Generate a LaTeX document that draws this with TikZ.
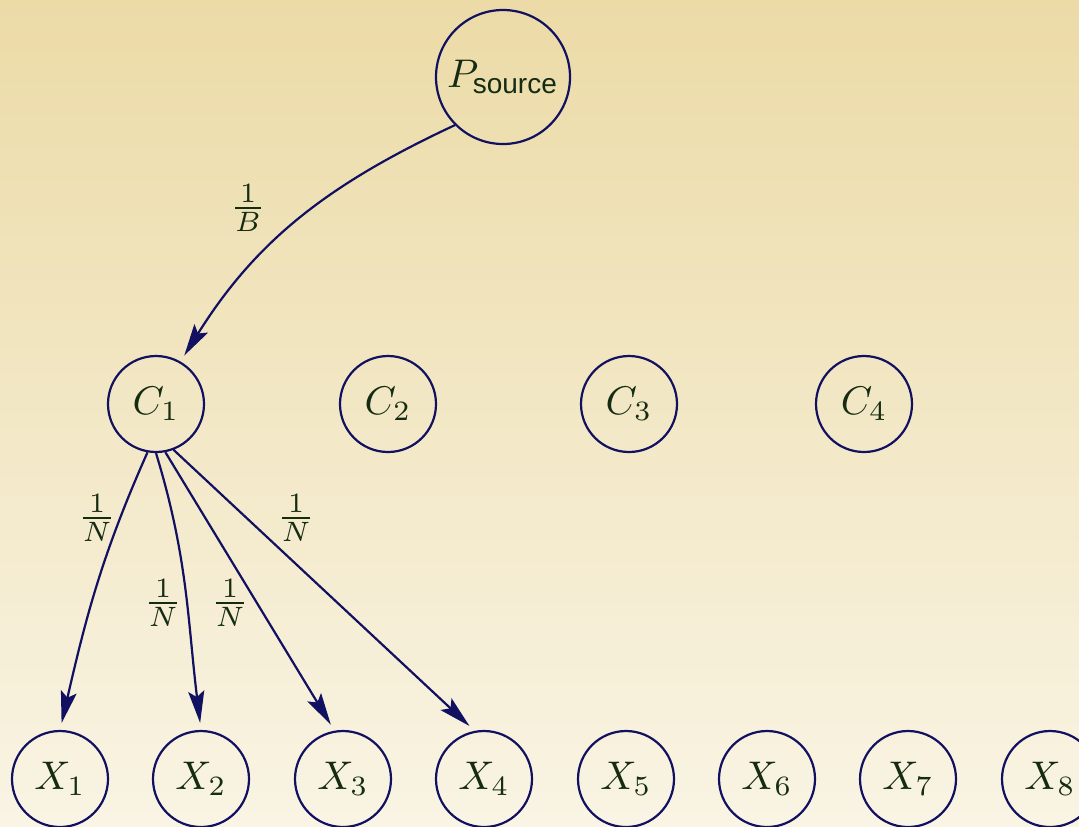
\documentclass[tikz,border=0pt]{standalone}
\usepackage{fontspec}
\newfontfamily\labelsans{Liberation Sans}
\usetikzlibrary{arrows.meta}
\definecolor{bgtop}{RGB}{236,219,167}
\definecolor{bgbottom}{RGB}{249,244,228}
\definecolor{edgeblue}{RGB}{18,16,96}
\definecolor{inkgreen}{RGB}{22,44,18}
\tikzset{
  state/.style={circle, draw=edgeblue, line width=0.55pt, minimum size=24pt,
    inner sep=0pt, text=inkgreen},
  bigstate/.style={state, minimum size=33.5pt},
  flow/.style={draw=edgeblue, line width=0.55pt,
    -{Stealth[length=8pt,width=4pt,inset=1.5pt]}, shorten >=1.75pt},
  weight/.style={text=inkgreen, inner sep=0pt}
}
\begin{document}
\begin{tikzpicture}[x=0.25pt,y=-0.25pt]
  % canvas and background
  \shade[top color=bgtop, bottom color=bgbottom] (0,0) rectangle (1079,826);
  \useasboundingbox (0,0) rectangle (1079,826);
  \clip (0,0) rectangle (1079,826);

  % source
  \node[bigstate] (P) at (503,77) {$P_{\mbox{\scriptsize\labelsans source}}$};

  % clusters
  \node[state] (C1) at (156,404) {$C_1$};
  \node[state] (C2) at (388,404) {$C_2$};
  \node[state] (C3) at (629,404) {$C_3$};
  \node[state] (C4) at (864,404) {$C_4$};

  % items
  \node[state] (X1) at (60,779)   {$X_1$};
  \node[state] (X2) at (201,779)  {$X_2$};
  \node[state] (X3) at (343,779)  {$X_3$};
  \node[state] (X4) at (484,779)  {$X_4$};
  \node[state] (X5) at (626,779)  {$X_5$};
  \node[state] (X6) at (767,779)  {$X_6$};
  \node[state] (X7) at (908,779)  {$X_7$};
  \node[state] (X8) at (1050,779) {$X_8$};

  % transitions
  \draw[flow] (P.225) to[out=205, in=58] (C1.60);
  \draw[flow] (C1.260) to[out=246, in=77] (X1.north);
  \draw[flow] (C1.270) to[out=287, in=97] (X2.north);
  \draw[flow] (C1.281) -- (X3.100);
  \draw[flow] (C1.291) -- (X4.101);

  % transition weights
  \node[weight] (wB)  at (248,208) {$\frac{1}{B}$};
  \node[weight] (wN1) at (97,518)  {$\frac{1}{N}$};
  \node[weight] (wN2) at (163,603) {$\frac{1}{N}$};
  \node[weight] (wN3) at (230,603) {$\frac{1}{N}$};
  \node[weight] (wN4) at (296,518) {$\frac{1}{N}$};
\end{tikzpicture}
\end{document}
